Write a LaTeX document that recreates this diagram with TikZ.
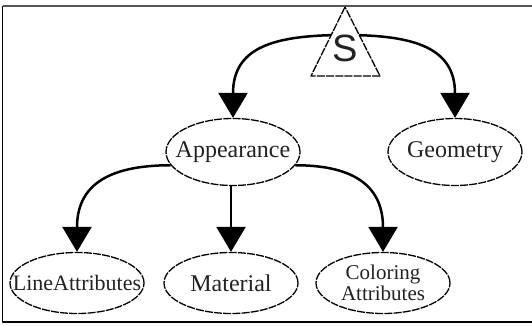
\documentclass[tikz,border=0pt]{standalone}
\usepackage{fontspec}
\setmainfont{Liberation Serif}
\newfontfamily\sgsans{Liberation Sans}
\usetikzlibrary{arrows.meta,shapes.geometric}
\definecolor{sgInk}{HTML}{222222}
\definecolor{sgRule}{HTML}{555555}
\tikzset{
  sg diagram/.style={x=1pt, y=-1pt, line join=round},
  sg node/.style={ellipse, draw=black, line width=1.3pt,
    dash pattern=on 8pt off 1.2pt, fill=white,
    minimum width=134pt, minimum height=67pt,
    inner xsep=-30pt, inner ysep=-4pt,
    align=center, text=sgInk, font=\fontsize{24}{22}\selectfont},
  sg leaf/.style={sg node, minimum height=61pt},
  sg link/.style={-{Triangle[length=25pt,width=29pt]}, line width=2.5pt},
  sg tri/.style={draw=black, fill=white, line width=1.3pt,
    dash pattern=on 8pt off 1.2pt},
  sg frame/.style={line width=1.5pt}
}
\begin{document}
\begin{tikzpicture}[sg diagram]
\useasboundingbox (0,0) rectangle (532,326);
% frame, open on the right
\draw[sg frame, draw=sgRule] (532,6) -- (2.5,6);
\draw[sg frame] (2.5,6) -- (2.5,322) -- (532,322);

\node[sg node] (app) at (233,152) {Appearance};
\node[sg node] (geo) at (455,152) {Geometry};
\node[sg leaf, font=\fontsize{22}{22}\selectfont] (line) at (77,283) {LineAttributes};
\node[sg leaf] (mat) at (231,283) {Material};
\node[sg leaf, font=\fontsize{21}{25}\selectfont] (col) at (383,283) {\raisebox{-4pt}{Coloring}\\Attributes};

\coordinate (hub) at (345,35);
\draw[sg link] (hub) to[out=180,in=90,looseness=1.3] (app);
\draw[sg link] (hub) to[out=0,in=90,looseness=1.3] (geo);
\draw[sg link] (app.192) to[out=180,in=90,looseness=1.3] (line);
\draw[sg link] (mat.north |- app.south) -- (mat);
\draw[sg link] (app.-12) to[out=0,in=90,looseness=1.3] (col);

% root triangle
\draw[sg tri] (345,7) -- (311,76) -- (380,76) -- cycle;
\node[font=\sgsans\fontsize{38}{38}\selectfont, text=sgInk, inner sep=0pt] (root) at (345,48) {S};
\end{tikzpicture}
\end{document}
